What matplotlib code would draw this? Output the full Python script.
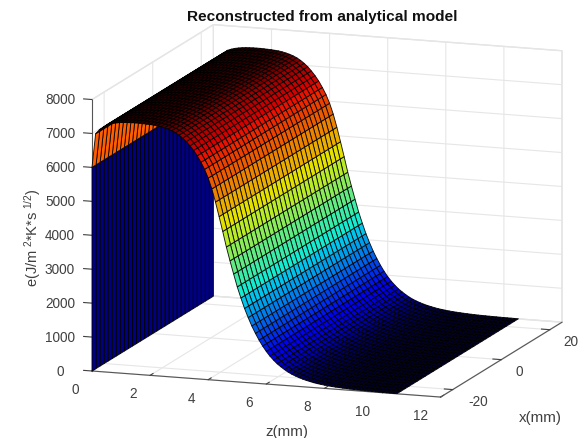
import numpy as np
import matplotlib
matplotlib.use("Agg")
import matplotlib.pyplot as plt
from matplotlib.transforms import Affine2D
from mpl_toolkits.mplot3d import proj3d

plt.rcParams['font.family'] = ['Liberation Sans', 'DejaVu Sans']
plt.rcParams['mathtext.fontset'] = 'custom'
plt.rcParams['mathtext.rm'] = 'Liberation Sans'
plt.rcParams['mathtext.default'] = 'regular'
plt.rcParams['axes.unicode_minus'] = False

title = "Reconstructed from analytical model"
xlabel_text = "z(mm)"
ylabel_text = "x(mm)"
zlabel_text = r"e(J/m$^{\ 2}$*K*s$^{\ 1/2}$)"

z_ticks = [0, 2, 4, 6, 8, 10, 12]
x_ticks = [-20, 0, 20]
e_ticks = [0, 1000, 2000, 3000, 4000, 5000, 6000, 7000, 8000]

x_mm = np.linspace(-25, 25, 31)
z_mm = np.arange(0, 10.51, 0.125)
e_profile = [6000, 7000, 7120, 7200, 7280, 7320, 7350, 7370, 7385, 7395, 7400, 7405,
             7405, 7405, 7400, 7395, 7390, 7380, 7370, 7350, 7325, 7295, 7255, 7205,
             7140, 7060, 6965, 6850, 6720, 6570, 6390, 6190, 5940, 5630, 5250, 4830,
             4400, 3950, 3550, 3170, 2800, 2480, 2180, 1920, 1680, 1470, 1280, 1110,
             960, 830, 720, 620, 540, 465, 400, 345, 300, 260, 225, 195, 170, 145, 125,
             110, 95, 82, 71, 62, 55, 47, 41, 35, 30, 26, 23, 20, 18, 15, 13, 11, 10,
             8, 7, 6, 5]

z_all = np.concatenate([[0.0], z_mm])
e_all = np.concatenate([[0.0], e_profile])
X, Y = np.meshgrid(z_all, x_mm, indexing='ij')
E = np.repeat(e_all[:, None], len(x_mm), axis=1)

# facet colours: jet by value, dimmed by a horizontal light
emax = e_all.max()
cmap = plt.get_cmap('jet')
dz = np.diff(z_all)
de = np.diff(e_all)
m = np.where(dz > 0, -de / np.where(dz > 0, dz, 1) * 12 * 0.753 / 8000, 0.0)
dot = m / np.sqrt(1 + m ** 2)
shade = np.clip(0.32 + 1.0 * np.clip(dot, 0, 1), 0, 0.92)
shade[:3] = 1.0
shade = np.append(shade, shade[-1])
rgba = cmap(e_all / emax)
rgba[:, :3] *= shade[:, None]
face = np.repeat(rgba[:, None, :], len(x_mm), axis=1)

W, H = 582, 439
fig = plt.figure(figsize=(W / 100, H / 100), dpi=100, facecolor='white')
ax = fig.add_axes([0, 0, 1, 1], projection='3d', facecolor='none')
ax.set_proj_type('ortho')
ax.view_init(elev=12.4, azim=-70.8)
ax.set_xlim(0, 12, view_margin=0)
ax.set_ylim(-25, 25, view_margin=0)
ax.set_zlim(0, 8000, view_margin=0)

surf = ax.plot_surface(X, Y, E, facecolors=face, rstride=1, cstride=1, shade=False,
                       edgecolor=(0, 0, 0, 0.9), linewidth=0.65, antialiased=True)
surf.set_clip_on(False)

ax.set_xticks(z_ticks)
ax.set_yticks(x_ticks)
ax.set_zticks(e_ticks)
ax.tick_params(axis='both', labelsize=9.8, labelcolor='#404040', colors='#404040', pad=1)
for a in (ax.xaxis, ax.yaxis, ax.zaxis):
    a.set_pane_color((1, 1, 1, 1))
    a.pane.set_edgecolor('#e2e2e2')
    a.line.set_color('#555555')
    a.line.set_linewidth(0.8)
    a._axinfo['grid'].update(color='#e6e6e6', linewidth=0.8)
    a._axinfo['tick'].update(inward_factor=0.0, outward_factor=0.3, linewidth={True: 0.8, False: 0.8})
ax.zaxis.set_ticks_position('lower')
ax.zaxis._get_tickdir = lambda pos: 0   # e ticks run along the horizontal axis

# box placement on the canvas
targets = [((0, -25, 0), (92, 372)), ((12, 25, 0), (562, 323)), ((0, -25, 8000), (92, 100))]
def corners():
    fig.canvas.draw()
    out = []
    for p, _ in targets:
        u, v, _w = proj3d.proj_transform(*p, ax.get_proj())
        d = ax.transData.transform((u, v))
        out.append((d[0], H - d[1]))
    return np.array(out)
zoom = 1.0
ax.set_box_aspect((1, 1, 0.753), zoom=zoom)
c = corners()
zoom *= 470 / (c[1, 0] - c[0, 0])
ax.set_box_aspect((1, 1, 0.753), zoom=zoom)
c = corners()
ax.set_position([(92 - c[0, 0]) / W, (c[0, 1] - 372) / H, 1, 1])

# tick label centres in canvas pixels
label_places = {
    ax.xaxis: [(75, 390), (133, 394), (191, 399), (249, 403), (307, 407), (362, 412), (420, 416)],
    ax.yaxis: [(478, 402), (519, 372), (571, 342)],
    ax.zaxis: [(60, 372 - 34 * k) for k in range(9)],
}
shifts = {a: [(0.0, 0.0)] * len(p) for a, p in label_places.items()}
def install(axis):
    orig = axis.get_major_ticks
    def patched(numticks=None):
        ticks = orig(numticks)
        for t, (dx, dy) in zip(ticks, shifts[axis]):
            t.label1.set_transform(ax.transData + Affine2D().translate(dx, dy))
        return ticks
    axis.get_major_ticks = patched
for axis in label_places:
    install(axis)
fig.canvas.draw()
renderer = fig.canvas.get_renderer()
new = {}
for axis, places in label_places.items():
    ticks = axis.get_major_ticks()
    out = []
    for t, (px, py) in zip(ticks, places):
        b = t.label1.get_window_extent(renderer)
        out.append((px - (b.x0 + b.x1) / 2, (H - py) - (b.y0 + b.y1) / 2))
    new[axis] = out
shifts.update(new)

t_title = fig.text(322 / W, 1 - 17 / H, title, ha='center', va='center', fontsize=10, fontweight='bold', color='#111111')
t_title.set_fontsize(10 * 270 / t_title.get_window_extent(renderer).width)
fig.text(287 / W, 1 - 432 / H, xlabel_text, ha='center', va='center', fontsize=10.9, color='#404040')
fig.text(540 / W, 1 - 418 / H, ylabel_text, ha='center', va='center', fontsize=10.9, color='#404040')
t_e = fig.text(33 / W, 1 - 237.5 / H, zlabel_text, ha='center', va='center', rotation=90, fontsize=10.5, color='#404040')
t_e.set_fontsize(10.5 * 99 / t_e.get_window_extent(renderer).height)

fig.savefig('out.png', dpi=100)
